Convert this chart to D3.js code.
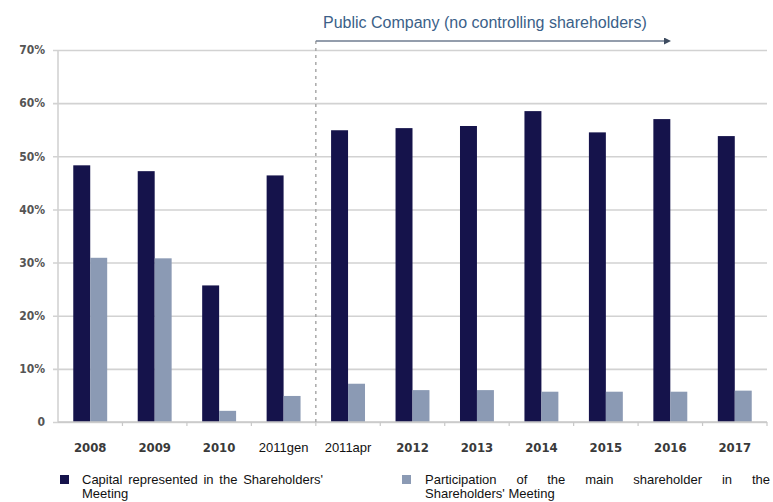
<!DOCTYPE html>
<html>
<head>
<meta charset="utf-8">
<script src="https://cdn.jsdelivr.net/npm/d3@7"></script>
<style>
  html, body { margin: 0; padding: 0; background: #ffffff; }
  svg { display: block; }
</style>
</head>
<body>
<svg id="chart" width="773" height="502"></svg>
<script>
// Shareholders' Meeting attendance by year
const categories = ["2008", "2009", "2010", "2011gen", "2011apr", "2012", "2013", "2014", "2015", "2016", "2017"];
const capitalRepresented = [48.3, 47.2, 25.7, 46.4, 54.9, 55.3, 55.7, 58.5, 54.5, 57.0, 53.8];
const mainShareholder = [30.9, 30.8, 2.1, 4.9, 7.2, 6.0, 6.0, 5.7, 5.7, 5.7, 5.9];
const seriesNames = ["Capital represented in the Shareholders' Meeting",
                     "Participation of the main shareholder in the Shareholders' Meeting"];
const yTicks = [0, 10, 20, 30, 40, 50, 60, 70];
const yTickLabels = ["0", "10%", "20%", "30%", "40%", "50%", "60%", "70%"];
const annotationText = "Public Company (no controlling shareholders)";
const publicFrom = "2011apr";

const colors = ["#15134b", "#8b9ab4"];
const svg = d3.select("#chart");

const plot = { left: 58, right: 767, top: 50, bottom: 422 };

const x0 = d3.scaleBand().domain(categories).range([plot.left, plot.right]).paddingInner(0).paddingOuter(0);
const x1 = d3.scaleBand().domain([0, 1]).range([0, x0.bandwidth()]).paddingInner(0).paddingOuter(0.9);
const y = d3.scaleLinear().domain([0, 70]).range([plot.bottom, plot.top]);

// horizontal gridlines
const yAxis = d3.axisLeft(y).tickValues(yTicks)
  .tickSize(-(plot.right - plot.left) - 5)
  .tickFormat((d, i) => yTickLabels[i]);
const gy = svg.append("g").attr("transform", `translate(${plot.left - 5},0)`).call(yAxis);
gy.select(".domain").remove();
gy.selectAll(".tick line").attr("stroke", "#d2d2d2").attr("stroke-width", 1.6)
  .attr("x1", 0).attr("x2", plot.right - plot.left + 5);
gy.selectAll(".tick text")
  .attr("x", -8)
  .attr("fill", "#555")
  .style("font-family", "'DejaVu Sans Condensed', 'DejaVu Sans', sans-serif")
  .style("font-weight", "bold")
  .style("font-size", "12px");

// vertical axis line
svg.append("line")
  .attr("x1", plot.left).attr("x2", plot.left)
  .attr("y1", plot.top).attr("y2", plot.bottom)
  .attr("stroke", "#d2d2d2").attr("stroke-width", 1.6);

// bars
const groups = svg.append("g").selectAll("g")
  .data(categories)
  .join("g")
  .attr("transform", d => `translate(${x0(d)},0)`);

groups.selectAll("rect")
  .data((d, i) => [capitalRepresented[i], mainShareholder[i]].map((v, s) => ({ v, s })))
  .join("rect")
  .attr("x", d => x1(d.s))
  .attr("width", x1.bandwidth())
  .attr("y", d => y(d.v))
  .attr("height", d => y(0) - y(d.v))
  .attr("fill", d => colors[d.s]);

// x axis baseline with ticks between categories
svg.append("line")
  .attr("x1", plot.left).attr("x2", plot.right)
  .attr("y1", plot.bottom).attr("y2", plot.bottom)
  .attr("stroke", "#c8c8c8").attr("stroke-width", 1.6);
svg.append("g").selectAll("line")
  .data(categories)
  .join("line")
  .attr("x1", d => x0(d) + x0.bandwidth())
  .attr("x2", d => x0(d) + x0.bandwidth())
  .attr("y1", plot.bottom).attr("y2", plot.bottom + 4)
  .attr("stroke", "#c8c8c8").attr("stroke-width", 1.2);

// category labels
svg.append("g").selectAll("text")
  .data(categories)
  .join("text")
  .attr("x", d => x0(d) + x0.bandwidth() / 2)
  .attr("y", 452)
  .attr("text-anchor", "middle")
  .each(function (d) {
    const t = d3.select(this);
    if (/[a-z]/.test(d)) {
      t.style("font-family", "Arial, 'Liberation Sans', sans-serif").style("font-size", "13px").attr("fill", "#111");
    } else {
      t.style("font-family", "'DejaVu Sans Condensed', 'DejaVu Sans', sans-serif")
        .style("font-weight", "bold").style("font-size", "13px").attr("fill", "#3a3a3a");
    }
  })
  .text(d => d);

// divider marking the start of the public-company period
const divX = x0(publicFrom);
svg.append("line")
  .attr("x1", divX).attr("x2", divX)
  .attr("y1", 41).attr("y2", plot.bottom)
  .attr("stroke", "#a9a9a9").attr("stroke-width", 1.5)
  .attr("stroke-dasharray", "3,4");

// arrow
svg.append("defs").append("marker")
  .attr("id", "arrowhead")
  .attr("viewBox", "0 0 10 10")
  .attr("refX", 0).attr("refY", 5)
  .attr("markerWidth", 7).attr("markerHeight", 7)
  .attr("markerUnits", "userSpaceOnUse")
  .attr("orient", "auto")
  .append("path").attr("d", "M0,0 L10,5 L0,10 Z").attr("fill", "#3e4c60");
svg.append("line")
  .attr("x1", divX).attr("x2", 664)
  .attr("y1", 41).attr("y2", 41)
  .attr("stroke", "#6f7d90").attr("stroke-width", 1.5)
  .attr("marker-end", "url(#arrowhead)");
svg.append("text")
  .attr("x", 323).attr("y", 28)
  .style("font-family", "Arial, 'Liberation Sans', sans-serif")
  .style("font-size", "16px")
  .attr("fill", "#3b5f88")
  .text(annotationText);

// legend entries: first line justified, remainder on a second line
function justifiedLegend(name, color, sx, tx, tRight, firstLineWords) {
  const words = name.split(" ");
  const line1 = words.slice(0, firstLineWords);
  const line2 = words.slice(firstLineWords).join(" ");
  const g = svg.append("g");
  g.append("rect").attr("x", sx).attr("y", 475).attr("width", 9).attr("height", 9).attr("fill", color);
  const font = t => t.style("font-family", "Arial, 'Liberation Sans', sans-serif").style("font-size", "13px").attr("fill", "#111");
  const ws = line1.map(w => g.append("text").attr("y", 484).call(font).text(w));
  const widths = ws.map(t => t.node().getComputedTextLength());
  const gap = (tRight - tx - d3.sum(widths)) / (ws.length - 1);
  let cx = tx;
  ws.forEach((t, i) => { t.attr("x", cx); cx += widths[i] + gap; });
  g.append("text").attr("x", tx).attr("y", 498).call(font).text(line2);
}
justifiedLegend(seriesNames[0], colors[0], 60, 82, 323, 5);
justifiedLegend(seriesNames[1], colors[1], 402, 425, 770, 7);
</script>
</body>
</html>
